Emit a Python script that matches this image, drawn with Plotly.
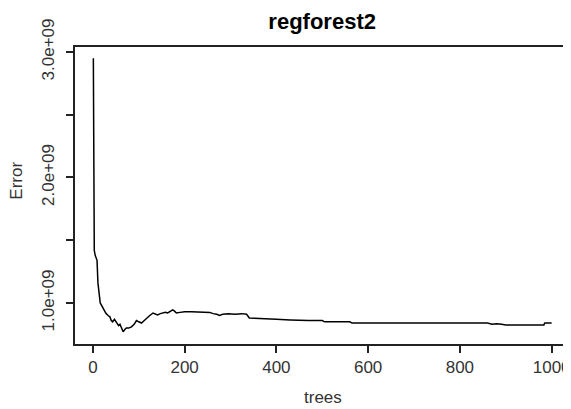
import plotly.graph_objects as go

# Number of trees and OOB error
trees = [1, 2, 3, 5, 9, 11, 14, 16, 19, 22, 25, 28, 33, 37, 40, 43, 47, 52, 56, 59,
         63, 66, 70, 73, 78, 84, 90, 95, 100, 106, 112, 117, 124, 131, 136, 141, 147,
         152, 158, 163, 168, 174, 178, 182, 190, 200, 215, 230, 245, 255, 262, 270,
         276, 283, 295, 310, 325, 335, 341, 360, 380, 400, 430, 450, 470, 500, 505,
         530, 560, 565, 600, 700, 800, 860, 870, 880, 891, 900, 983, 985, 1000]
error = [2.95e9, 1.45e9, 1.42e9, 1.38e9, 1.34e9, 1.16e9, 1.05e9, 1.00e9, 0.98e9, 0.96e9,
         0.94e9, 0.92e9, 0.90e9, 0.89e9, 0.86e9, 0.85e9, 0.87e9, 0.84e9, 0.82e9, 0.83e9,
         0.79e9, 0.77e9, 0.79e9, 0.80e9, 0.80e9, 0.81e9, 0.83e9, 0.86e9, 0.85e9, 0.84e9,
         0.86e9, 0.88e9, 0.90e9, 0.92e9, 0.91e9, 0.905e9, 0.915e9, 0.92e9, 0.925e9, 0.92e9,
         0.93e9, 0.945e9, 0.935e9, 0.92e9, 0.925e9, 0.93e9, 0.93e9, 0.93e9, 0.93e9, 0.925e9,
         0.915e9, 0.91e9, 0.90e9, 0.91e9, 0.915e9, 0.91e9, 0.915e9, 0.91e9, 0.88e9, 0.875e9,
         0.875e9, 0.87e9, 0.865e9, 0.86e9, 0.86e9, 0.86e9, 0.85e9, 0.85e9, 0.85e9, 0.84e9,
         0.84e9, 0.84e9, 0.84e9, 0.84e9, 0.83e9, 0.835e9, 0.83e9, 0.825e9, 0.825e9, 0.84e9,
         0.84e9]

x_ticks = [0, 200, 400, 600, 800, 1000]
y_ticks = [1.0e9, 1.5e9, 2.0e9, 2.5e9, 3.0e9]
y_tick_labels = ["1.0e+09", "", "2.0e+09", "", "3.0e+09"]

FONT = "Liberation Sans, Arial, sans-serif"
INK = "#222222"

# the page body has an 8px margin, so the figure is sized to fit the window
fig = go.Figure()
fig.add_trace(go.Scatter(x=trees, y=error, mode="lines",
                         line=dict(color="black", width=1.5), showlegend=False))

fig.update_layout(
    width=563, height=401,
    margin=dict(l=67, r=1, t=39, b=65, autoexpand=False),
    paper_bgcolor="white", plot_bgcolor="white",
    font=dict(family=FONT, size=17, color=INK),
    title=dict(text="<b>regforest2</b>", x=0.558, xanchor="center",
               y=0.968, yanchor="middle", font=dict(size=22, color="black")),
)
fig.update_xaxes(range=[-39, 1040], tickvals=x_ticks, ticks="outside", ticklen=7,
                 tickcolor=INK, tickwidth=1.5, showline=True, linecolor=INK, linewidth=1.5,
                 mirror=True, showgrid=False, zeroline=False, automargin=False,
                 tickfont=dict(size=17, color="#333333"))
fig.update_yaxes(range=[0.673e9, 3.04e9], tickvals=y_ticks, ticktext=y_tick_labels,
                 tickangle=-90, ticks="outside", ticklen=7, tickcolor=INK, tickwidth=1.5,
                 showline=True, linecolor=INK, linewidth=1.5, mirror=True,
                 ticklabelstandoff=5, automargin=False,
                 showgrid=False, zeroline=False, tickfont=dict(size=17, color="#333333"))

fig.add_annotation(text="trees", xref="paper", yref="paper", x=0.5, y=0,
                   yshift=-53, xanchor="center", yanchor="middle", showarrow=False,
                   font=dict(size=17, color="#333333"))
fig.add_annotation(text="Error", xref="paper", yref="paper", x=0, y=0.55,
                   xshift=-58, xanchor="center", yanchor="middle", textangle=-90,
                   showarrow=False, font=dict(size=17, color="#333333"))

fig.write_html("out.html")
